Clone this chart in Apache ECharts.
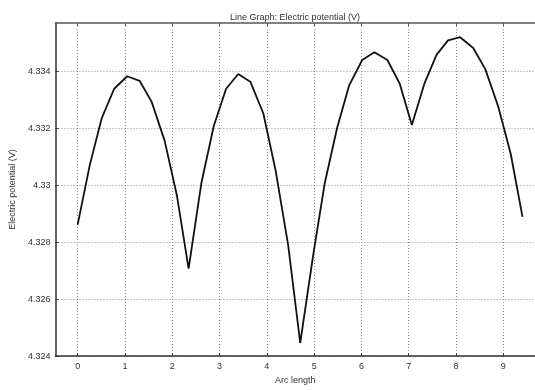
<!DOCTYPE html>
<html>
<head>
<meta charset="utf-8">
<script src="https://cdn.jsdelivr.net/npm/echarts@6/dist/echarts.min.js"></script>
<style>
  html, body { margin: 0; padding: 0; background: #fff; }
  #chart { width: 535px; height: 390px; }
</style>
</head>
<body>
<div id="chart"></div>
<script>
// arc length sample points and electric potential
const arcLength = [0, 0.255, 0.51, 0.772, 1.048, 1.31, 1.565, 1.84, 2.1, 2.346, 2.615, 2.878, 3.139, 3.395, 3.65, 3.925, 4.188, 4.451, 4.706, 4.98, 5.224, 5.487, 5.741, 6.017, 6.273, 6.549, 6.812, 7.066, 7.329, 7.59, 7.832, 8.087, 8.364, 8.619, 8.894, 9.157, 9.406];
const potential = [4.32862, 4.3307, 4.33236, 4.33339, 4.33383, 4.33367, 4.33293, 4.33156, 4.32963, 4.32707, 4.33007, 4.33208, 4.33339, 4.33391, 4.33364, 4.33253, 4.3305, 4.3279, 4.32446, 4.32755, 4.33007, 4.33202, 4.33351, 4.3344, 4.33467, 4.3344, 4.33356, 4.33212, 4.33356, 4.33459, 4.33509, 4.3352, 4.33482, 4.33408, 4.33276, 4.3311, 4.32889];

const xTicks = [0, 1, 2, 3, 4, 5, 6, 7, 8, 9];
const yTicks = [4.324, 4.326, 4.328, 4.33, 4.332, 4.334];

const chart = echarts.init(document.getElementById('chart'));

const font = 'Liberation Sans, Arial, sans-serif';
const gridLine = { show: true, lineStyle: { color: '#909090', type: [1, 2], width: 1 } };

const option = {
  animation: false,
  title: {
    text: 'Line Graph: Electric potential (V)',
    left: 290,
    textAlign: 'center',
    top: 8,
    textStyle: { fontSize: 9, fontWeight: 'normal', color: '#333', fontFamily: font },
  },
  grid: { left: 45, right: 0, top: 23, bottom: 27 },
  xAxis: [{
    type: 'value',
    min: -0.47,
    max: 9.67,
    name: 'Arc length',
    nameLocation: 'middle',
    nameGap: 19,
    nameTextStyle: { fontSize: 9, color: '#333', fontFamily: font },
    axisLine: { onZero: false, lineStyle: { color: '#333', width: 1.5 } },
    axisTick: { show: true, inside: true, length: 3, customValues: xTicks, lineStyle: { color: '#333' } },
    axisLabel: { customValues: xTicks, fontSize: 9, color: '#333', margin: 6, fontFamily: font },
    splitLine: gridLine,
  }, {
    type: 'value',
    position: 'top',
    min: -0.47,
    max: 9.67,
    axisLine: { show: true, onZero: false, lineStyle: { color: '#555', width: 1.5 } },
    axisTick: { show: true, inside: true, length: 3, customValues: xTicks, lineStyle: { color: '#555' } },
    axisLabel: { show: false },
    splitLine: { show: false },
  }],
  yAxis: {
    type: 'value',
    min: 4.324,
    max: 4.3357,
    name: 'Electric potential (V)',
    nameLocation: 'middle',
    nameGap: 31,
    nameTextStyle: { fontSize: 9, color: '#333', fontFamily: font },
    axisLine: { show: true, onZero: false, lineStyle: { color: '#333', width: 1.5 } },
    axisTick: { show: true, inside: true, length: 3, customValues: yTicks, lineStyle: { color: '#333' } },
    axisLabel: { customValues: yTicks, fontSize: 9, color: '#333', margin: 5, fontFamily: font },
    splitLine: gridLine,
  },
  series: [{
    type: 'line',
    data: arcLength.map((x, i) => [x, potential[i]]),
    showSymbol: false,
    lineStyle: { color: '#111', width: 1.8 },
  }],
};

chart.setOption(option);
</script>
</body>
</html>
